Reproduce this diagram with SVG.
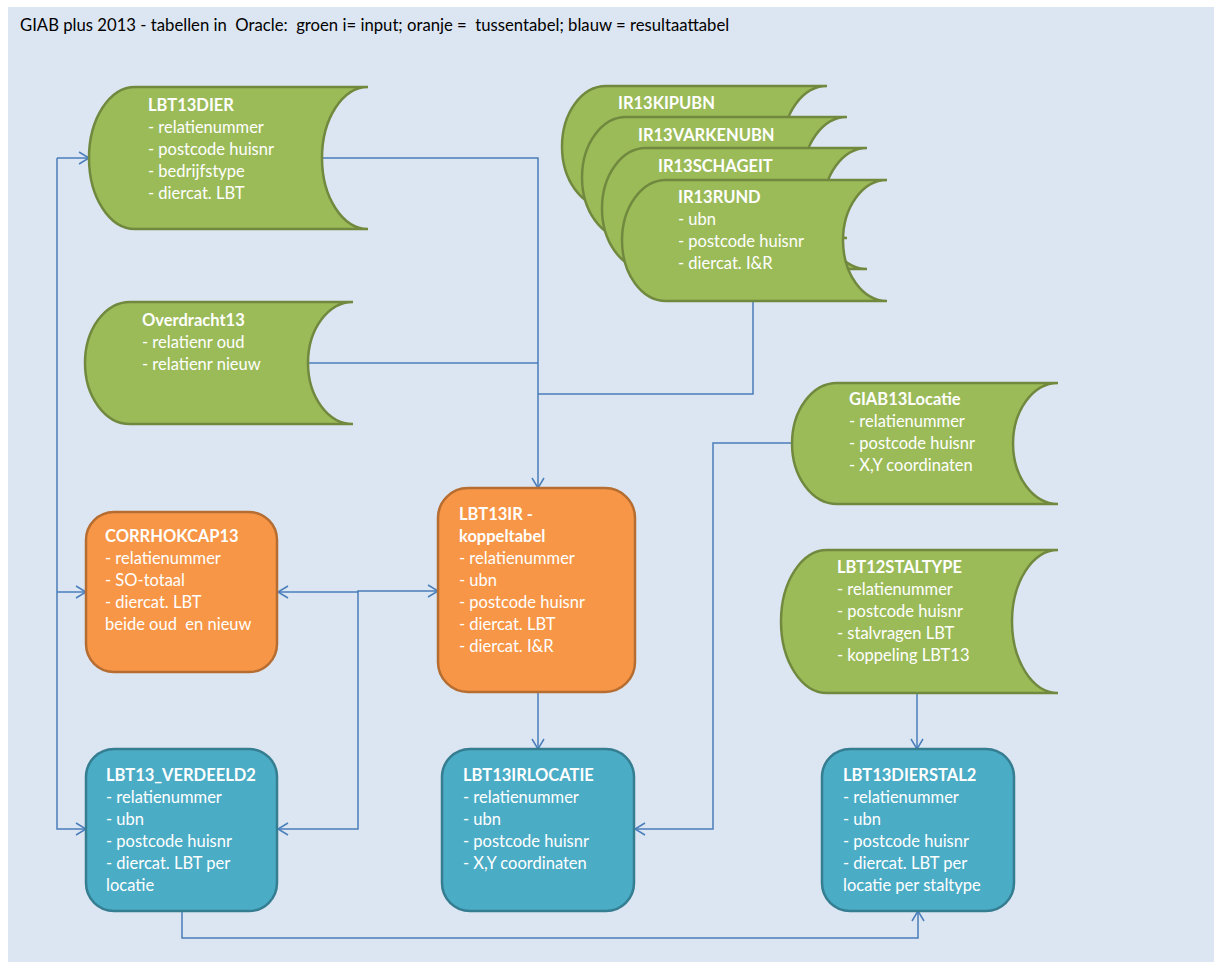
<svg xmlns="http://www.w3.org/2000/svg" width="1214" height="962" viewBox="0 0 1214 962">
<style>
text{font-family:Lato,"Open Sans","Liberation Sans",sans-serif;font-size:16.5px;fill:#ffffff}
.t{font-weight:bold}
.hdr{fill:#000000;font-size:16.7px}
.g{fill:#9bbb59;stroke:#71893f;stroke-width:2.5}
.o{fill:#f79646;stroke:#b66d31;stroke-width:2.5}
.b{fill:#4bacc6;stroke:#357d91;stroke-width:2.5}
.c{fill:none;stroke:#4a7ebb;stroke-width:1.5}
</style>
<defs>
<marker id="arr" viewBox="-12 -8 14 16" refX="0" refY="0" markerWidth="14" markerHeight="16" markerUnits="userSpaceOnUse" orient="auto"><path d="M-10,-6 L0,0 L-10,6" fill="none" stroke="#4a7ebb" stroke-width="1.5"/></marker>
</defs>
<rect x="8" y="7" width="1206" height="955" fill="#dce6f2"/>
<text class="hdr" x="20" y="31" xml:space="preserve">GIAB plus 2013 - tabellen in  Oracle:  groen i= input; oranje =  tussentabel; blauw = resultaattabel</text>

<g id="connectors">
<path class="c" d="M322,158 H538 V488" marker-end="url(#arr)"/>
<path class="c" d="M308,363 H538"/>
<path class="c" d="M753,301 V394 H538"/>
<path class="c" d="M792,443 H713 V829 H635" marker-end="url(#arr)"/>
<path class="c" d="M917,693 V749" marker-end="url(#arr)"/>
<path class="c" d="M538,692 V749" marker-end="url(#arr)"/>
<path class="c" d="M182,911 V938 H918 V911" marker-end="url(#arr)"/>
<path class="c" d="M57,158 H89" marker-end="url(#arr)"/>
<path class="c" d="M57,158 V829 H86" marker-end="url(#arr)"/>
<path class="c" d="M57,592 H86" marker-end="url(#arr)"/>
<path class="c" d="M358,592 H278" marker-end="url(#arr)"/>
<path class="c" d="M358,592 V591 H438" marker-end="url(#arr)"/>
<path class="c" d="M358,591 V829 H278" marker-end="url(#arr)"/>
</g>

<g id="LBT13DIER">
<path class="g" d="M135,87 H368 A46,71 0 0 0 368,229 H135 A46,71 0 0 1 135,87 Z"/>
<text x="148" y="111" class="t">LBT13DIER</text>
<text x="148" y="133">- relatienummer</text>
<text x="148" y="155">- postcode huisnr</text>
<text x="148" y="177">- bedrijfstype</text>
<text x="148" y="199">- diercat. LBT</text>
</g>

<g id="IR13KIPUBN">
<path class="g" d="M606,86 H827 A44,60.5 0 0 0 827,207 H606 A44,60.5 0 0 1 606,86 Z"/>
<text x="618" y="109" class="t">IR13KIPUBN</text>
</g>
<g id="IR13VARKENUBN">
<path class="g" d="M626,117 H847 A44,60.5 0 0 0 847,238 H626 A44,60.5 0 0 1 626,117 Z"/>
<text x="638" y="141" class="t">IR13VARKENUBN</text>
</g>
<g id="IR13SCHAGEIT">
<path class="g" d="M646,148 H867 A44,60.5 0 0 0 867,269 H646 A44,60.5 0 0 1 646,148 Z"/>
<text x="658" y="172" class="t">IR13SCHAGEIT</text>
</g>
<g id="IR13RUND">
<path class="g" d="M666,180 H887 A44,60.5 0 0 0 887,301 H666 A44,60.5 0 0 1 666,180 Z"/>
<text x="678" y="203" class="t">IR13RUND</text>
<text x="678" y="225">- ubn</text>
<text x="678" y="247">- postcode huisnr</text>
<text x="678" y="269">- diercat. I&amp;R</text>
</g>

<g id="Overdracht13">
<path class="g" d="M130,302 H353 A45,61 0 0 0 353,424 H130 A45,61 0 0 1 130,302 Z"/>
<text x="142" y="326" class="t">Overdracht13</text>
<text x="142" y="348">- relatienr oud</text>
<text x="142" y="370">- relatienr nieuw</text>
</g>

<g id="GIAB13Locatie">
<path class="g" d="M837,383 H1058 A45,60.5 0 0 0 1058,504 H837 A45,60.5 0 0 1 837,383 Z"/>
<text x="849" y="405" class="t">GIAB13Locatie</text>
<text x="849" y="427">- relatienummer</text>
<text x="849" y="449">- postcode huisnr</text>
<text x="849" y="471">- X,Y coordinaten</text>
</g>

<g id="LBT12STALTYPE">
<path class="g" d="M827,550 H1058 A46,71.5 0 0 0 1058,693 H827 A46,71.5 0 0 1 827,550 Z"/>
<text x="837" y="573" class="t">LBT12STALTYPE</text>
<text x="837" y="595">- relatienummer</text>
<text x="837" y="617">- postcode huisnr</text>
<text x="837" y="639">- stalvragen LBT</text>
<text x="837" y="661">- koppeling LBT13</text>
</g>

<g id="CORRHOKCAP13">
<rect class="o" x="86" y="512" width="191" height="160" rx="28"/>
<text x="105" y="542" class="t">CORRHOKCAP13</text>
<text x="105" y="564">- relatienummer</text>
<text x="105" y="586">- SO-totaal</text>
<text x="105" y="608">- diercat. LBT</text>
<text x="105" y="630" xml:space="preserve">beide oud  en nieuw</text>
</g>

<g id="LBT13IR">
<rect class="o" x="438" y="488" width="197" height="204" rx="30"/>
<text x="459" y="520" class="t">LBT13IR -</text>
<text x="459" y="542" class="t">koppeltabel</text>
<text x="459" y="564">- relatienummer</text>
<text x="459" y="586">- ubn</text>
<text x="459" y="608">- postcode huisnr</text>
<text x="459" y="630">- diercat. LBT</text>
<text x="459" y="652">- diercat. I&amp;R</text>
</g>

<g id="LBT13_VERDEELD2">
<rect class="b" x="86" y="749" width="191" height="162" rx="28"/>
<text x="106" y="781" class="t">LBT13_VERDEELD2</text>
<text x="106" y="803">- relatienummer</text>
<text x="106" y="825">- ubn</text>
<text x="106" y="847">- postcode huisnr</text>
<text x="106" y="869">- diercat. LBT per</text>
<text x="106" y="891">locatie</text>
</g>

<g id="LBT13IRLOCATIE">
<rect class="b" x="442" y="749" width="192" height="162" rx="28"/>
<text x="463" y="781" class="t">LBT13IRLOCATIE</text>
<text x="463" y="803">- relatienummer</text>
<text x="463" y="825">- ubn</text>
<text x="463" y="847">- postcode huisnr</text>
<text x="463" y="869">- X,Y coordinaten</text>
</g>

<g id="LBT13DIERSTAL2">
<rect class="b" x="822" y="749" width="192" height="162" rx="28"/>
<text x="843" y="781" class="t">LBT13DIERSTAL2</text>
<text x="843" y="803">- relatienummer</text>
<text x="843" y="825">- ubn</text>
<text x="843" y="847">- postcode huisnr</text>
<text x="843" y="869">- diercat. LBT per</text>
<text x="843" y="891">locatie per staltype</text>
</g>
</svg>
